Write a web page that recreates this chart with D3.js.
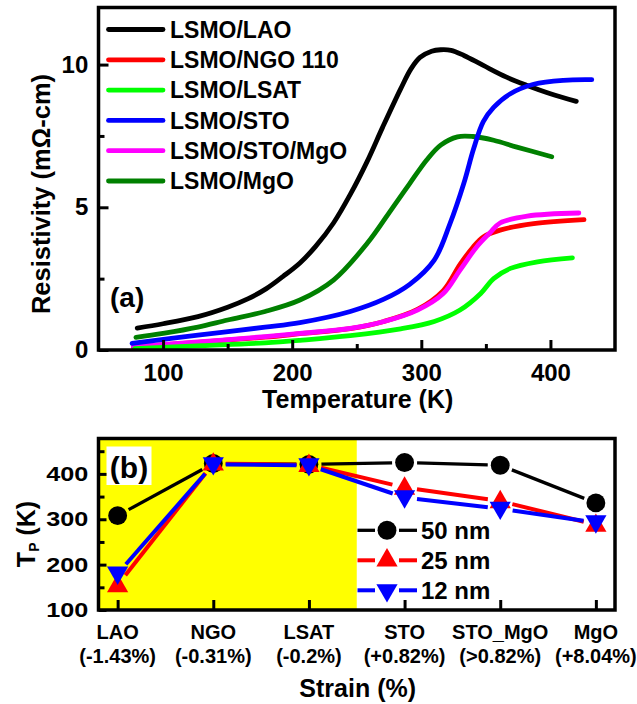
<!DOCTYPE html>
<html><head><meta charset="utf-8">
<script src="https://cdn.jsdelivr.net/npm/d3@7"></script>
<style>
body{margin:0;background:#fff}
svg{display:block;background:#fff}
text{font-family:"Liberation Sans",Arial,sans-serif;font-weight:bold;fill:#000}
</style>
</head><body>
<svg id="c" width="637" height="704"></svg>
<script>
// ---------- Panel (a): resistivity vs temperature ----------
const tempDomain = [50, 450];
const rhoDomain = [0, 12];
const tempTicks = [100, 200, 300, 400];
const tempMinor = [150, 250, 350];
const rhoTicks = [0, 5, 10];
const rhoMinor = [2.5, 7.5];

const seriesNames = ["LSMO/LAO", "LSMO/NGO 110", "LSMO/LSAT", "LSMO/STO", "LSMO/STO/MgO", "LSMO/MgO"];
const seriesColors = ["#000000", "#ff0000", "#00ff00", "#0000ff", "#ff00ff", "#008000"];

const rhoLAO = [[80,0.77],[100,0.92],[127,1.17],[150,1.5],[166,1.8],[180,2.15],[193,2.58],[206,3.05],[218,3.62],[232,4.45],[245,5.45],[258,6.6],[270,7.8],[284,9.15],[292,9.85],[299,10.25],[308,10.47],[315,10.52],[323,10.5],[333,10.32],[348,9.97],[366,9.56],[382,9.27],[400,8.98],[420,8.71]];
const rhoNGO = [[77,0.10],[127,0.27],[179,0.45],[206,0.57],[245,0.75],[271,1.0],[297,1.42],[317,2.08],[330,3.0],[340,3.6],[348,3.96],[361,4.2],[387,4.43],[426,4.57]];
const rhoLSAT = [[78,0.05],[130,0.15],[179,0.25],[206,0.34],[245,0.5],[284,0.74],[310,1.0],[330,1.4],[346,1.98],[356,2.5],[369,2.86],[390,3.09],[417,3.23]];
const rhoSTO = [[76,0.23],[127,0.52],[179,0.8],[206,0.96],[245,1.35],[271,1.78],[291,2.3],[310,3.15],[322,4.4],[333,5.85],[340.5,7.05],[348,8.0],[356,8.5],[369,8.98],[387,9.31],[410,9.45],[432,9.47]];
const rhoSTOMgO = [[77,0.12],[127,0.28],[179,0.47],[206,0.58],[245,0.76],[271,1.0],[297,1.4],[317,1.98],[330,2.8],[343,3.62],[353,4.1],[361,4.45],[382,4.69],[422,4.8]];
const rhoMgO = [[79,0.44],[100,0.58],[127,0.8],[150,1.05],[179,1.35],[206,1.75],[232,2.45],[258,3.73],[278,5.0],[291,5.83],[304,6.65],[315,7.18],[328,7.47],[340,7.48],[356,7.35],[374,7.11],[401,6.77]];
const seriesData = [rhoLAO, rhoNGO, rhoLSAT, rhoSTO, rhoSTOMgO, rhoMgO];
const drawOrder = [0, 5, 1, 4, 2, 3];

// ---------- Panel (b): T_P vs strain ----------
const substrates = ["LAO", "NGO", "LSAT", "STO", "STO_MgO", "MgO"];
const strainLabels = ["(-1.43%)", "(-0.31%)", "(-0.2%)", "(+0.82%)", "(>0.82%)", "(+8.04%)"];
const tpDomain = [100, 478];
const tpTicks = [100, 200, 300, 400];
const tpMinor = [150, 250, 350, 450];
const thickNames = ["50 nm", "25 nm", "12 nm"];
const thickColors = ["#000000", "#ff0000", "#0000ff"];
const tp50 = [308, 423, 421, 425, 419, 336];
const tp25 = [155, 423, 420, 370, 340, 288];
const tp12 = [180, 421, 419, 348, 323, 293];
const tpData = [tp50, tp25, tp12];

const svg = d3.select("#c");
const FW = 3.5;

// ===== Panel (a) =====
const A = {l: 98.5, r: 615, t: 7.5, b: 350};
const x1 = d3.scaleLinear().domain(tempDomain).range([A.l, A.r]);
const y1 = d3.scaleLinear().domain(rhoDomain).range([A.b, A.t]);
const gA = svg.append("g");

const line1 = d3.line().x(d => x1(d[0])).y(d => y1(d[1])).curve(d3.curveCatmullRom.alpha(0.5));
drawOrder.forEach(i => {
  gA.append("path").attr("d", line1(seriesData[i])).attr("fill", "none")
    .attr("stroke", seriesColors[i]).attr("stroke-width", 4.8)
    .attr("stroke-linecap", "round").attr("stroke-linejoin", "round");
});

// legend
seriesNames.forEach((n, i) => {
  const yy = 29.5 + i * 30.3;
  gA.append("line").attr("x1", 108.5).attr("x2", 163).attr("y1", yy).attr("y2", yy)
    .attr("stroke", seriesColors[i]).attr("stroke-width", 4.8).attr("stroke-linecap", "round");
  gA.append("text").attr("x", 170).attr("y", yy).attr("dy", "0.36em")
    .attr("font-size", 23).text(n);
});
gA.append("text").attr("x", 110).attr("y", 307).attr("font-size", 28).text("(a)");

// axes panel a
function styleAxis(g) {
  g.select(".domain").remove();
  g.selectAll(".tick line").attr("stroke", "#000").attr("stroke-width", 3);
}
const xa = gA.append("g").attr("transform", `translate(0,${A.b})`)
  .call(d3.axisBottom(x1).tickValues(tempTicks).tickSize(-10).tickPadding(13.7).tickSizeOuter(0));
styleAxis(xa);
xa.selectAll("text").attr("font-size", 24).attr("font-family", null).attr("font-weight", "bold");
const xam = gA.append("g").attr("transform", `translate(0,${A.b})`)
  .call(d3.axisBottom(x1).tickValues(tempMinor).tickSize(-6).tickFormat(""));
styleAxis(xam);
const ya = gA.append("g").attr("transform", `translate(${A.l},0)`)
  .call(d3.axisLeft(y1).tickValues(rhoTicks).tickSize(-10).tickPadding(10.2));
styleAxis(ya);
ya.selectAll("text").attr("font-size", 24).attr("font-family", null).attr("font-weight", "bold");
const yam = gA.append("g").attr("transform", `translate(${A.l},0)`)
  .call(d3.axisLeft(y1).tickValues(rhoMinor).tickSize(-6).tickFormat(""));
styleAxis(yam);
svg.selectAll(".tick text").attr("fill", "#000");

gA.append("rect").attr("x", A.l).attr("y", A.t).attr("width", A.r - A.l).attr("height", A.b - A.t)
  .attr("fill", "none").attr("stroke", "#000").attr("stroke-width", FW);

gA.append("text").attr("x", 357.7).attr("y", 408).attr("text-anchor", "middle")
  .attr("font-size", 25).text("Temperature (K)");
gA.append("text").attr("transform", "translate(50,194) rotate(-90)").attr("text-anchor", "middle")
  .attr("font-size", 25.5).text("Resistivity (mΩ-cm)");

// ===== Panel (b) =====
const B = {l: 98.5, r: 615, t: 438.5, b: 610};
const x2 = d3.scalePoint().domain(substrates).range([B.l, B.r]).padding(0.2);
const y2 = d3.scaleLinear().domain(tpDomain).range([B.b, B.t]);
const gB = svg.append("g");

const bandRight = (x2("LSAT") + x2("STO")) / 2;
gB.append("rect").attr("x", B.l).attr("y", B.t).attr("width", bandRight - B.l).attr("height", B.b - B.t)
  .attr("fill", "#ffff00");
gB.append("rect").attr("x", 106.5).attr("y", 446.5).attr("width", 45).attr("height", 38.5).attr("fill", "#fff");
gB.append("text").attr("x", 129).attr("y", 478).attr("text-anchor", "middle")
  .attr("font-size", 30).text("(b)");

const GAP = 12.5;
function gapSeg(x0, y0, xa_, ya_) {
  const dx = xa_ - x0, dy = ya_ - y0, L = Math.hypot(dx, dy);
  const ux = dx / L, uy = dy / L;
  return [x0 + ux * GAP, y0 + uy * GAP, xa_ - ux * GAP, ya_ - uy * GAP];
}
const symbols = [
  d3.symbol().type(d3.symbolCircle).size(280),
  d3.symbol().type(d3.symbolTriangle).size(195),
  d3.symbol().type(d3.symbolTriangle).size(195)
];
const symRot = [0, 0, 180];
tpData.forEach((vals, si) => {
  const pts = vals.map((v, k) => [x2(substrates[k]), y2(v)]);
  for (let k = 0; k < pts.length - 1; k++) {
    const s = gapSeg(pts[k][0], pts[k][1], pts[k + 1][0], pts[k + 1][1]);
    gB.append("line").attr("x1", s[0]).attr("y1", s[1]).attr("x2", s[2]).attr("y2", s[3])
      .attr("stroke", thickColors[si]).attr("stroke-width", si === 0 ? 3.3 : 4);
  }
  pts.forEach(p => {
    gB.append("path").attr("d", symbols[si]())
      .attr("transform", `translate(${p[0]},${p[1] + (si === 2 ? -1 : si === 1 ? 1 : 0)}) rotate(${symRot[si]})`)
      .attr("fill", thickColors[si]);
  });
});

// legend b
thickNames.forEach((n, i) => {
  const yy = 530.3 + i * 30;
  const cx = 387;
  gB.append("line").attr("x1", 357.5).attr("x2", cx - 12).attr("y1", yy).attr("y2", yy)
    .attr("stroke", thickColors[i]).attr("stroke-width", i === 0 ? 3.3 : 4);
  gB.append("line").attr("x1", cx + 12).attr("x2", 417).attr("y1", yy).attr("y2", yy)
    .attr("stroke", thickColors[i]).attr("stroke-width", i === 0 ? 3.3 : 4);
  gB.append("path").attr("d", symbols[i]())
    .attr("transform", `translate(${cx},${yy}) rotate(${symRot[i]})`).attr("fill", thickColors[i]);
  gB.append("text").attr("x", 421).attr("y", yy).attr("dy", "0.36em").attr("font-size", 24).text(n);
});

// axes panel b
const xb = gB.append("g").attr("transform", `translate(0,${B.b})`)
  .call(d3.axisBottom(x2).tickSize(-10).tickFormat(""));
styleAxis(xb);
const yb = gB.append("g").attr("transform", `translate(${B.l},0)`)
  .call(d3.axisLeft(y2).tickValues(tpTicks).tickSize(-8).tickPadding(10.2));
styleAxis(yb);
yb.selectAll("text").attr("font-size", 21).attr("font-family", null).attr("font-weight", "bold")
  .attr("fill", "#000").attr("x", -10.2 / 1.2).attr("transform", "scale(1.2,1)");
const ybm = gB.append("g").attr("transform", `translate(${B.l},0)`)
  .call(d3.axisLeft(y2).tickValues(tpMinor).tickSize(-6).tickFormat(""));
styleAxis(ybm);

gB.append("rect").attr("x", B.l).attr("y", B.t).attr("width", B.r - B.l).attr("height", B.b - B.t)
  .attr("fill", "none").attr("stroke", "#000").attr("stroke-width", FW);

substrates.forEach((s, k) => {
  gB.append("text").attr("x", x2(s)).attr("y", 639).attr("text-anchor", "middle")
    .attr("font-size", 20).text(s);
  gB.append("text").attr("x", x2(s)).attr("y", 662.5).attr("text-anchor", "middle")
    .attr("font-size", 20).text(strainLabels[k]);
});
gB.append("text").attr("x", 357.7).attr("y", 697).attr("text-anchor", "middle")
  .attr("font-size", 25).text("Strain (%)");

const tpT = gB.append("text").attr("transform", "translate(35,534) rotate(-90)")
  .attr("text-anchor", "middle").attr("font-size", 25);
tpT.append("tspan").text("T");
tpT.append("tspan").attr("font-size", 14).attr("dy", 4).text("P");
tpT.append("tspan").attr("dy", -4).text(" (K)");
</script>
</body></html>
